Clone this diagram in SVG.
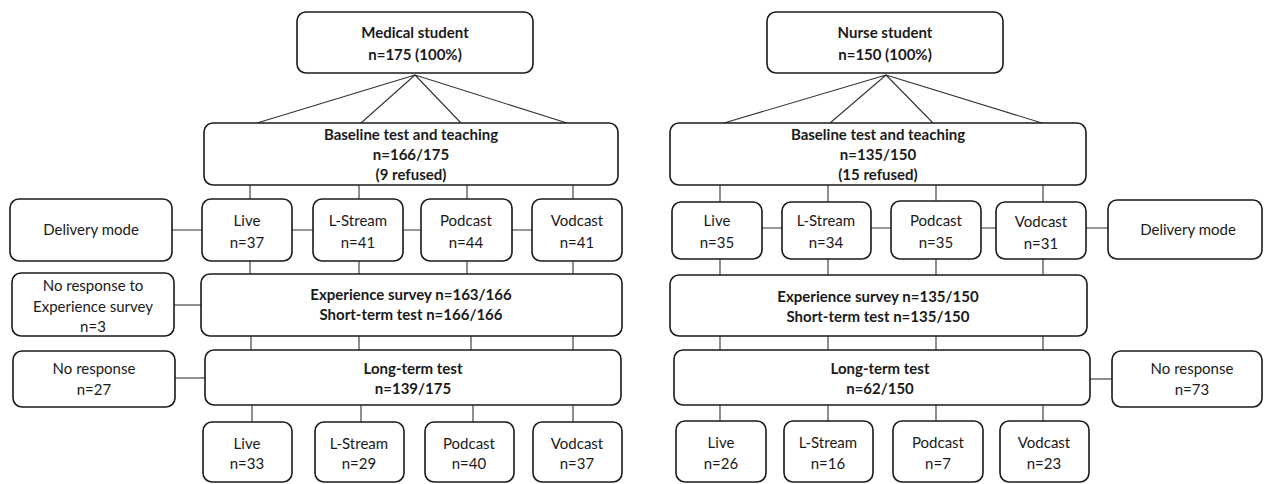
<svg xmlns="http://www.w3.org/2000/svg" width="1264" height="484" viewBox="0 0 1264 484">
<style>
.b{fill:#fff;stroke:#1a1a1a;stroke-width:1.6}
.t{font-family:Lato,"Liberation Sans",sans-serif;font-size:15px;fill:#1a1a1a;text-anchor:middle}
.h{font-weight:bold}
.c{stroke:#333;stroke-width:1.1;fill:none}
</style>
<rect width="1264" height="484" fill="#fff"/>
<g id="connectors">
<path class="c" d="M415 75L257 123M415 75L361 123M415 75L461 123M415 75L567 123"/>
<path class="c" d="M250 185V200M359 185V200M467 185V200M573 185V200"/>
<path class="c" d="M172 230H202M292 230H313M403 230H421M512 230H532"/>
<path class="c" d="M250 261V274M359 261V274M467 261V274M573 261V274"/>
<path class="c" d="M174 305H201"/>
<path class="c" d="M251 336V350M359 336V350M471 336V350M573 336V350"/>
<path class="c" d="M175 378H205"/>
<path class="c" d="M252 405V422M361 405V422M473 405V422M573 405V422"/>
<path class="c" d="M886 75L724 123M886 75L830 123M886 75L933 123M886 75L1042 123"/>
<path class="c" d="M720 185V202M828 185V202M936 185V202M1043 185V202"/>
<path class="c" d="M762 228H782M871 228H891M981 228H996M1086 228H1108"/>
<path class="c" d="M720 259V275M828 259V275M936 259V275M1043 259V275"/>
<path class="c" d="M720 336V350M828 336V350M936 336V350M1043 336V350"/>
<path class="c" d="M1090 379H1112"/>
<path class="c" d="M720 405V421M828 405V421M936 405V421M1043 405V421"/>
</g>
<g id="med-student"><rect class="b" x="297" y="12" width="236" height="61" rx="9"/><text class="t h" x="415" y="38">Medical student</text><text class="t h" x="415" y="60">n=175 (100%)</text></g>
<g id="med-baseline"><rect class="b" x="204" y="123" width="414" height="62" rx="9"/><text class="t h" x="411" y="140">Baseline test and teaching</text><text class="t h" x="411" y="160">n=166/175</text><text class="t h" x="411" y="180">(9 refused)</text></g>
<g id="med-delivery"><rect class="b" x="10" y="199" width="162" height="62" rx="9"/><text class="t" x="91" y="235">Delivery mode</text></g>
<g id="med-live"><rect class="b" x="202" y="199" width="90" height="62" rx="9"/><text class="t" x="247" y="226">Live</text><text class="t" x="247" y="248">n=37</text></g>
<g id="med-lstream"><rect class="b" x="313" y="199" width="90" height="62" rx="9"/><text class="t" x="358" y="226">L-Stream</text><text class="t" x="358" y="248">n=41</text></g>
<g id="med-podcast"><rect class="b" x="421" y="199" width="91" height="62" rx="9"/><text class="t" x="466" y="226">Podcast</text><text class="t" x="466" y="248">n=44</text></g>
<g id="med-vodcast"><rect class="b" x="532" y="199" width="90" height="62" rx="9"/><text class="t" x="577" y="226">Vodcast</text><text class="t" x="577" y="248">n=41</text></g>
<g id="med-noexp"><rect class="b" x="12" y="273" width="162" height="63" rx="9"/><text class="t" x="93" y="291">No response to</text><text class="t" x="93" y="312">Experience survey</text><text class="t" x="93" y="332">n=3</text></g>
<g id="med-exp"><rect class="b" x="201" y="274" width="421" height="62" rx="9"/><text class="t h" x="411" y="300">Experience survey n=163/166</text><text class="t h" x="411" y="320">Short-term test n=166/166</text></g>
<g id="med-noresp"><rect class="b" x="13" y="351" width="162" height="56" rx="9"/><text class="t" x="94" y="374">No response</text><text class="t" x="94" y="395">n=27</text></g>
<g id="med-long"><rect class="b" x="205" y="350" width="416" height="55" rx="9"/><text class="t h" x="413" y="374">Long-term test</text><text class="t h" x="413" y="394">n=139/175</text></g>
<g id="med-live2"><rect class="b" x="203" y="422" width="89" height="60" rx="9"/><text class="t" x="247" y="449">Live</text><text class="t" x="247" y="469">n=33</text></g>
<g id="med-lstream2"><rect class="b" x="315" y="422" width="89" height="60" rx="9"/><text class="t" x="359" y="449">L-Stream</text><text class="t" x="359" y="469">n=29</text></g>
<g id="med-podcast2"><rect class="b" x="425" y="422" width="89" height="60" rx="9"/><text class="t" x="469" y="449">Podcast</text><text class="t" x="469" y="469">n=40</text></g>
<g id="med-vodcast2"><rect class="b" x="533" y="422" width="89" height="60" rx="9"/><text class="t" x="577" y="449">Vodcast</text><text class="t" x="577" y="469">n=37</text></g>
<g id="nur-student"><rect class="b" x="767" y="12" width="236" height="61" rx="9"/><text class="t h" x="885" y="38">Nurse student</text><text class="t h" x="885" y="60">n=150 (100%)</text></g>
<g id="nur-baseline"><rect class="b" x="670" y="123" width="416" height="62" rx="9"/><text class="t h" x="878" y="140">Baseline test and teaching</text><text class="t h" x="878" y="160">n=135/150</text><text class="t h" x="878" y="180">(15 refused)</text></g>
<g id="nur-live"><rect class="b" x="672" y="202" width="90" height="57" rx="9"/><text class="t" x="717" y="226">Live</text><text class="t" x="717" y="248">n=35</text></g>
<g id="nur-lstream"><rect class="b" x="782" y="202" width="89" height="57" rx="9"/><text class="t" x="826" y="226">L-Stream</text><text class="t" x="826" y="248">n=34</text></g>
<g id="nur-podcast"><rect class="b" x="891" y="201" width="90" height="58" rx="9"/><text class="t" x="936" y="226">Podcast</text><text class="t" x="936" y="248">n=35</text></g>
<g id="nur-vodcast"><rect class="b" x="996" y="202" width="90" height="57" rx="9"/><text class="t" x="1041" y="227">Vodcast</text><text class="t" x="1041" y="249">n=31</text></g>
<g id="nur-delivery"><rect class="b" x="1108" y="200" width="154" height="59" rx="9"/><text class="t" x="1188" y="235">Delivery mode</text></g>
<g id="nur-exp"><rect class="b" x="670" y="275" width="417" height="61" rx="9"/><text class="t h" x="878" y="302">Experience survey n=135/150</text><text class="t h" x="878" y="322">Short-term test n=135/150</text></g>
<g id="nur-long"><rect class="b" x="674" y="350" width="416" height="55" rx="9"/><text class="t h" x="880" y="374">Long-term test</text><text class="t h" x="880" y="394">n=62/150</text></g>
<g id="nur-noresp"><rect class="b" x="1112" y="351" width="150" height="56" rx="9"/><text class="t" x="1192" y="374">No response</text><text class="t" x="1192" y="395">n=73</text></g>
<g id="nur-live2"><rect class="b" x="676" y="421" width="90" height="61" rx="9"/><text class="t" x="721" y="448">Live</text><text class="t" x="721" y="469">n=26</text></g>
<g id="nur-lstream2"><rect class="b" x="784" y="421" width="89" height="61" rx="9"/><text class="t" x="828" y="448">L-Stream</text><text class="t" x="828" y="469">n=16</text></g>
<g id="nur-podcast2"><rect class="b" x="893" y="421" width="90" height="61" rx="9"/><text class="t" x="938" y="448">Podcast</text><text class="t" x="938" y="469">n=7</text></g>
<g id="nur-vodcast2"><rect class="b" x="1000" y="421" width="89" height="61" rx="9"/><text class="t" x="1044" y="448">Vodcast</text><text class="t" x="1044" y="469">n=23</text></g>
</svg>
